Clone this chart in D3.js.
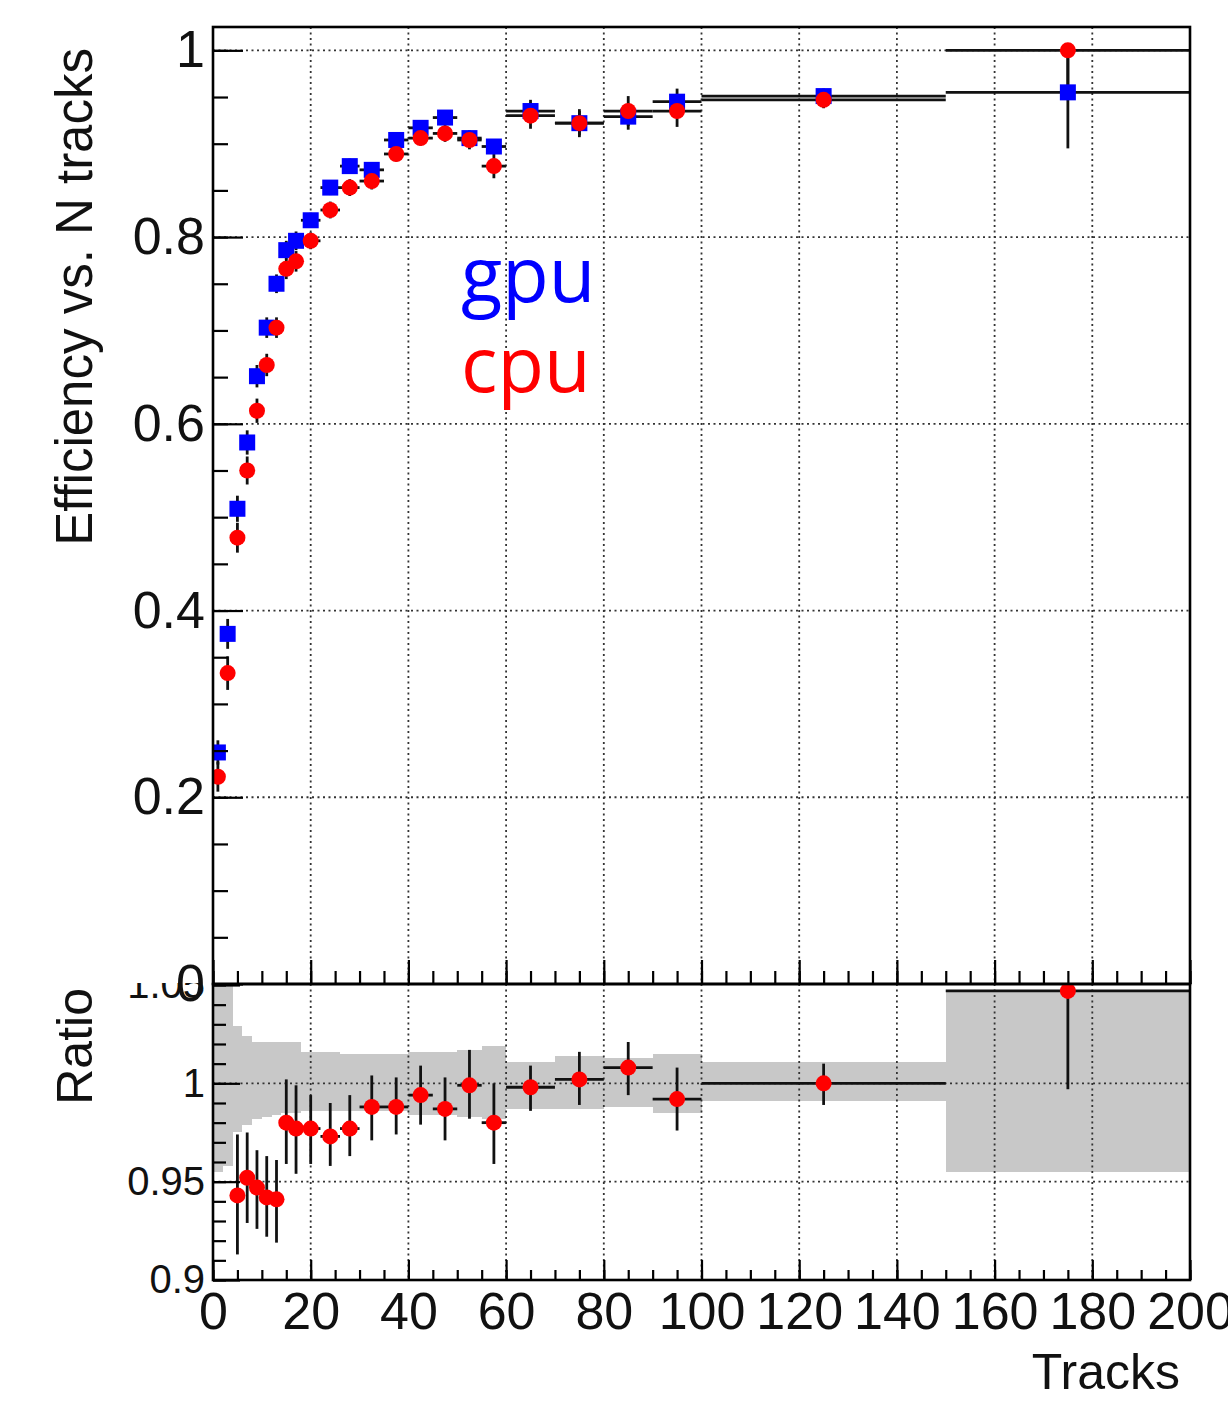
<!DOCTYPE html>
<meta charset="utf-8">
<script src="https://d3js.org/d3.v7.min.js"></script>
<style>
  body { margin: 0; background: #fff; }
  text { font-family: "Liberation Sans", Arial, Helvetica, sans-serif; }
</style>
<div id="my_dataviz"></div>
<script>
  // bin edges of the N tracks histogram
  const binEdges = [0, 2, 4, 6, 8, 10, 12, 14, 16, 18, 22, 26, 30, 35, 40, 45, 50, 55, 60, 70, 80, 90, 100, 150, 200];

  // efficiency, gpu
  const gpuEff = [0.248, 0.375, 0.509, 0.580, 0.651, 0.703, 0.750, 0.786, 0.796, 0.818, 0.853, 0.876, 0.872, 0.904, 0.917, 0.928, 0.906, 0.897, 0.935, 0.922, 0.929, 0.945, 0.951, 0.955];
  const gpuErrLo = [0.013, 0.016, 0.014, 0.013, 0.012, 0.011, 0.010, 0.010, 0.010, 0.008, 0.008, 0.008, 0.008, 0.007, 0.007, 0.008, 0.008, 0.008, 0.012, 0.013, 0.014, 0.014, 0.008, 0.060];
  const gpuErrHi = [0.013, 0.016, 0.014, 0.013, 0.012, 0.011, 0.010, 0.010, 0.010, 0.008, 0.008, 0.008, 0.008, 0.007, 0.007, 0.008, 0.008, 0.008, 0.012, 0.013, 0.014, 0.014, 0.008, 0.043];

  // efficiency, cpu
  const cpuEff = [0.222, 0.333, 0.478, 0.550, 0.614, 0.663, 0.703, 0.766, 0.774, 0.796, 0.829, 0.853, 0.860, 0.889, 0.906, 0.911, 0.904, 0.876, 0.930, 0.922, 0.935, 0.935, 0.947, 1.000];
  const cpuErrLo = [0.016, 0.018, 0.016, 0.015, 0.013, 0.012, 0.011, 0.011, 0.011, 0.009, 0.009, 0.009, 0.009, 0.008, 0.008, 0.009, 0.010, 0.013, 0.014, 0.015, 0.016, 0.017, 0.009, 0.040];
  const cpuErrHi = [0.016, 0.018, 0.016, 0.015, 0.013, 0.012, 0.011, 0.011, 0.011, 0.009, 0.009, 0.009, 0.009, 0.008, 0.008, 0.009, 0.010, 0.013, 0.014, 0.015, 0.016, 0.017, 0.009, 0.000];

  // ratio cpu / gpu
  const ratio = [0.888, 0.888, 0.943, 0.952, 0.947, 0.942, 0.941, 0.980, 0.977, 0.977, 0.973, 0.977, 0.988, 0.988, 0.994, 0.987, 0.999, 0.980, 0.998, 1.002, 1.008, 0.992, 1.000, 1.047];
  const ratioErrLo = [0.030, 0.030, 0.030, 0.023, 0.021, 0.020, 0.022, 0.021, 0.023, 0.018, 0.015, 0.014, 0.017, 0.014, 0.015, 0.016, 0.017, 0.021, 0.012, 0.013, 0.014, 0.016, 0.011, 0.050];
  const ratioErrHi = [0.030, 0.030, 0.031, 0.023, 0.019, 0.021, 0.020, 0.022, 0.022, 0.017, 0.017, 0.017, 0.016, 0.015, 0.015, 0.016, 0.018, 0.020, 0.011, 0.014, 0.013, 0.016, 0.010, 0.050];

  // grey band (gpu relative uncertainty)
  const bandLo = [0.955, 0.958, 0.975, 0.979, 0.982, 0.983, 0.984, 0.985, 0.985, 0.986, 0.986, 0.986, 0.986, 0.986, 0.984, 0.984, 0.983, 0.982, 0.987, 0.987, 0.988, 0.985, 0.991, 0.955];
  const bandHi = [1.080, 1.060, 1.029, 1.024, 1.021, 1.021, 1.021, 1.021, 1.021, 1.016, 1.016, 1.015, 1.015, 1.015, 1.016, 1.016, 1.017, 1.019, 1.011, 1.014, 1.013, 1.015, 1.011, 1.047];

  const xMajor = d3.range(0, 201, 20);
  const xMinor = d3.range(0, 201, 5);
  const effMajor = [0, 0.2, 0.4, 0.6, 0.8, 1];
  const effMinor = d3.range(0, 21).map(i => i * 0.05);
  const ratMajor = [0.9, 0.95, 1, 1.05];
  const ratMinor = d3.range(0, 16).map(i => 0.9 + i * 0.01);
  const ratLabels = ["0.9", "0.95", "1", "1.05"];

  const W = 1228, H = 1401;
  const left = 213, right = 1190;
  const topY0 = 27, topY1 = 984, botY0 = 984, botY1 = 1280;

  const svg = d3.select("#my_dataviz").append("svg")
    .attr("width", W).attr("height", H);

  const x = d3.scaleLinear().domain([0, 200]).range([left, right]);
  const yTop = d3.scaleLinear().domain([0, 1.025]).range([topY1, topY0]);
  const yRat = d3.scaleLinear().domain([0.9, 1.0505]).range([botY1, botY0]);

  const bins = gpuEff.map((g, i) => ({
    lo: binEdges[i], hi: binEdges[i + 1], c: (binEdges[i] + binEdges[i + 1]) / 2,
    g, gLo: gpuErrLo[i], gHi: gpuErrHi[i],
    cp: cpuEff[i], cLo: cpuErrLo[i], cHi: cpuErrHi[i],
    r: ratio[i], rLo: ratioErrLo[i], rHi: ratioErrHi[i],
    bLo: bandLo[i], bHi: bandHi[i]
  }));

  const defs = svg.append("defs");
  defs.append("clipPath").attr("id", "clipTop").append("rect")
    .attr("x", left).attr("y", topY0).attr("width", right - left).attr("height", topY1 - topY0);
  defs.append("clipPath").attr("id", "clipBot").append("rect")
    .attr("x", left).attr("y", botY0).attr("width", right - left).attr("height", botY1 - botY0);
  defs.append("clipPath").attr("id", "clipLab").append("rect")
    .attr("x", -300).attr("y", botY0 - 1).attr("width", W + 300).attr("height", H);

  const gridStyle = sel => sel.attr("stroke", "#333").attr("stroke-width", 1.8)
    .attr("stroke-dasharray", "2,3.5").attr("fill", "none");

  // ---------- top panel ----------
  const topPanel = svg.append("g");
  topPanel.append("g").selectAll("line").data(xMajor.slice(1, -1)).join("line")
    .attr("x1", d => x(d)).attr("x2", d => x(d)).attr("y1", topY0).attr("y2", topY1).call(gridStyle);
  topPanel.append("g").selectAll("line").data(effMajor.slice(1)).join("line")
    .attr("x1", left).attr("x2", right).attr("y1", d => yTop(d)).attr("y2", d => yTop(d)).call(gridStyle);

  const plotTop = topPanel.append("g").attr("clip-path", "url(#clipTop)");

  function drawSeries(g, data, val, lo, hi) {
    g.selectAll(".vbar").data(data).join("line").attr("class", "vbar")
      .attr("x1", d => x(d.c)).attr("x2", d => x(d.c))
      .attr("y1", d => yTop(val(d) - lo(d))).attr("y2", d => yTop(val(d) + hi(d)))
      .attr("stroke", "#111").attr("stroke-width", 2.8);
    g.selectAll(".hbar").data(data).join("line").attr("class", "hbar")
      .attr("x1", d => x(d.lo)).attr("x2", d => x(d.hi))
      .attr("y1", d => yTop(val(d))).attr("y2", d => yTop(val(d)))
      .attr("stroke", "#111").attr("stroke-width", 2.8);
  }

  const gGpu = plotTop.append("g");
  drawSeries(gGpu, bins, d => d.g, d => d.gLo, d => d.gHi);
  const gCpu = plotTop.append("g");
  drawSeries(gCpu, bins, d => d.cp, d => d.cLo, d => d.cHi);

  plotTop.append("g").selectAll("rect").data(bins).join("rect")
    .attr("x", d => x(d.c) - 8).attr("y", d => yTop(d.g) - 8)
    .attr("width", 16).attr("height", 16).attr("fill", "#0000ff");
  plotTop.append("g").selectAll("circle").data(bins).join("circle")
    .attr("cx", d => x(d.c)).attr("cy", d => yTop(d.cp)).attr("r", 8)
    .attr("fill", "#ff0000");

  // axes of the top panel
  const fontBig = 52;
  topPanel.append("g").attr("transform", `translate(${left},0)`)
    .call(d3.axisLeft(yTop).tickValues(effMinor).tickSize(-15).tickFormat(""));
  topPanel.append("g").attr("transform", `translate(${left},0)`)
    .call(d3.axisLeft(yTop).tickValues(effMajor).tickSize(-30).tickPadding(8)
      .tickFormat(d => d === 0 ? "0" : d === 1 ? "1" : d3.format(".1f")(d)));
  topPanel.append("g").attr("transform", `translate(0,${topY1})`)
    .call(d3.axisBottom(x).tickValues(xMinor).tickSize(-13).tickFormat(""));
  topPanel.append("g").attr("transform", `translate(0,${topY1})`)
    .call(d3.axisBottom(x).tickValues(xMajor).tickSize(-24).tickFormat(""));

  // frame
  topPanel.append("rect").attr("x", left).attr("y", topY0).attr("width", right - left).attr("height", topY1 - topY0)
    .attr("fill", "none").attr("stroke", "#000").attr("stroke-width", 2.6);

  // ---------- ratio panel ----------
  const botPanel = svg.append("g");
  const plotBot = botPanel.append("g").attr("clip-path", "url(#clipBot)");
  plotBot.append("g").selectAll("rect").data(bins).join("rect")
    .attr("x", d => x(d.lo)).attr("width", d => x(d.hi) - x(d.lo))
    .attr("y", d => yRat(d.bHi)).attr("height", d => yRat(d.bLo) - yRat(d.bHi))
    .attr("fill", "#c8c8c8").attr("shape-rendering", "crispEdges");

  plotBot.append("g").selectAll("line").data(xMajor.slice(1, -1)).join("line")
    .attr("x1", d => x(d)).attr("x2", d => x(d)).attr("y1", botY0).attr("y2", botY1).call(gridStyle);
  plotBot.append("g").selectAll("line").data([0.95, 1]).join("line")
    .attr("x1", left).attr("x2", right).attr("y1", d => yRat(d)).attr("y2", d => yRat(d)).call(gridStyle);

  const shown = bins.filter(d => d.r >= 0.9);
  plotBot.append("g").selectAll("line").data(shown).join("line")
    .attr("x1", d => x(d.c)).attr("x2", d => x(d.c))
    .attr("y1", d => yRat(d.r - d.rLo)).attr("y2", d => yRat(d.r + d.rHi))
    .attr("stroke", "#111").attr("stroke-width", 2.8);
  plotBot.append("g").selectAll("line").data(shown).join("line")
    .attr("x1", d => x(d.lo)).attr("x2", d => x(d.hi))
    .attr("y1", d => yRat(d.r)).attr("y2", d => yRat(d.r))
    .attr("stroke", "#111").attr("stroke-width", 2.8);
  plotBot.append("g").selectAll("circle").data(shown).join("circle")
    .attr("cx", d => x(d.c)).attr("cy", d => yRat(d.r)).attr("r", 8)
    .attr("fill", "#ff0000");

  botPanel.append("g").attr("transform", `translate(${left},0)`)
    .call(d3.axisLeft(yRat).tickValues(ratMinor).tickSize(-13).tickFormat(""));
  const yRatAx = botPanel.append("g").attr("transform", `translate(${left},0)`)
    .attr("clip-path", "url(#clipLab)")
    .call(d3.axisLeft(yRat).tickValues(ratMajor).tickSize(-27).tickPadding(8)
      .tickFormat((d, i) => ratLabels[i]));
  botPanel.append("g").attr("transform", `translate(0,${botY1})`)
    .call(d3.axisBottom(x).tickValues(xMinor).tickSize(-10).tickFormat(""));
  botPanel.append("g").attr("transform", `translate(0,${botY1})`)
    .call(d3.axisBottom(x).tickValues(xMajor).tickSize(-20).tickPadding(12).tickFormat(d3.format("d")));

  botPanel.append("rect").attr("x", left).attr("y", botY0).attr("width", right - left).attr("height", botY1 - botY0)
    .attr("fill", "none").attr("stroke", "#000").attr("stroke-width", 2.6);

  // axis styling
  svg.selectAll(".domain").remove();
  svg.selectAll(".tick line").attr("stroke", "#000").attr("stroke-width", 2.2);
  svg.selectAll(".tick text").attr("font-family", "Liberation Sans, Arial, sans-serif")
    .attr("fill", "#111").attr("font-size", fontBig);
  yRatAx.selectAll(".tick text").attr("font-size", 40);

  // titles
  svg.append("text").attr("transform", "translate(92,48) rotate(-90)")
    .attr("text-anchor", "end").attr("font-size", 51).attr("fill", "#111")
    .text("Efficiency vs. N tracks");
  svg.append("text").attr("transform", "translate(92,988) rotate(-90)")
    .attr("text-anchor", "end").attr("font-size", 50).attr("fill", "#111")
    .text("Ratio");
  svg.append("text").attr("x", 1180).attr("y", 1389)
    .attr("text-anchor", "end").attr("font-size", 50).attr("fill", "#111")
    .text("Tracks");

  // legend words
  svg.append("text").attr("x", 461).attr("y", 302)
    .style("font-family", "'Open Sans', 'Noto Sans', sans-serif").attr("font-size", 76)
    .attr("fill", "#0000ff").text("gpu");
  svg.append("text").attr("x", 461).attr("y", 392)
    .style("font-family", "'Open Sans', 'Noto Sans', sans-serif").attr("font-size", 76)
    .attr("fill", "#ff0000").text("cpu");
</script>
